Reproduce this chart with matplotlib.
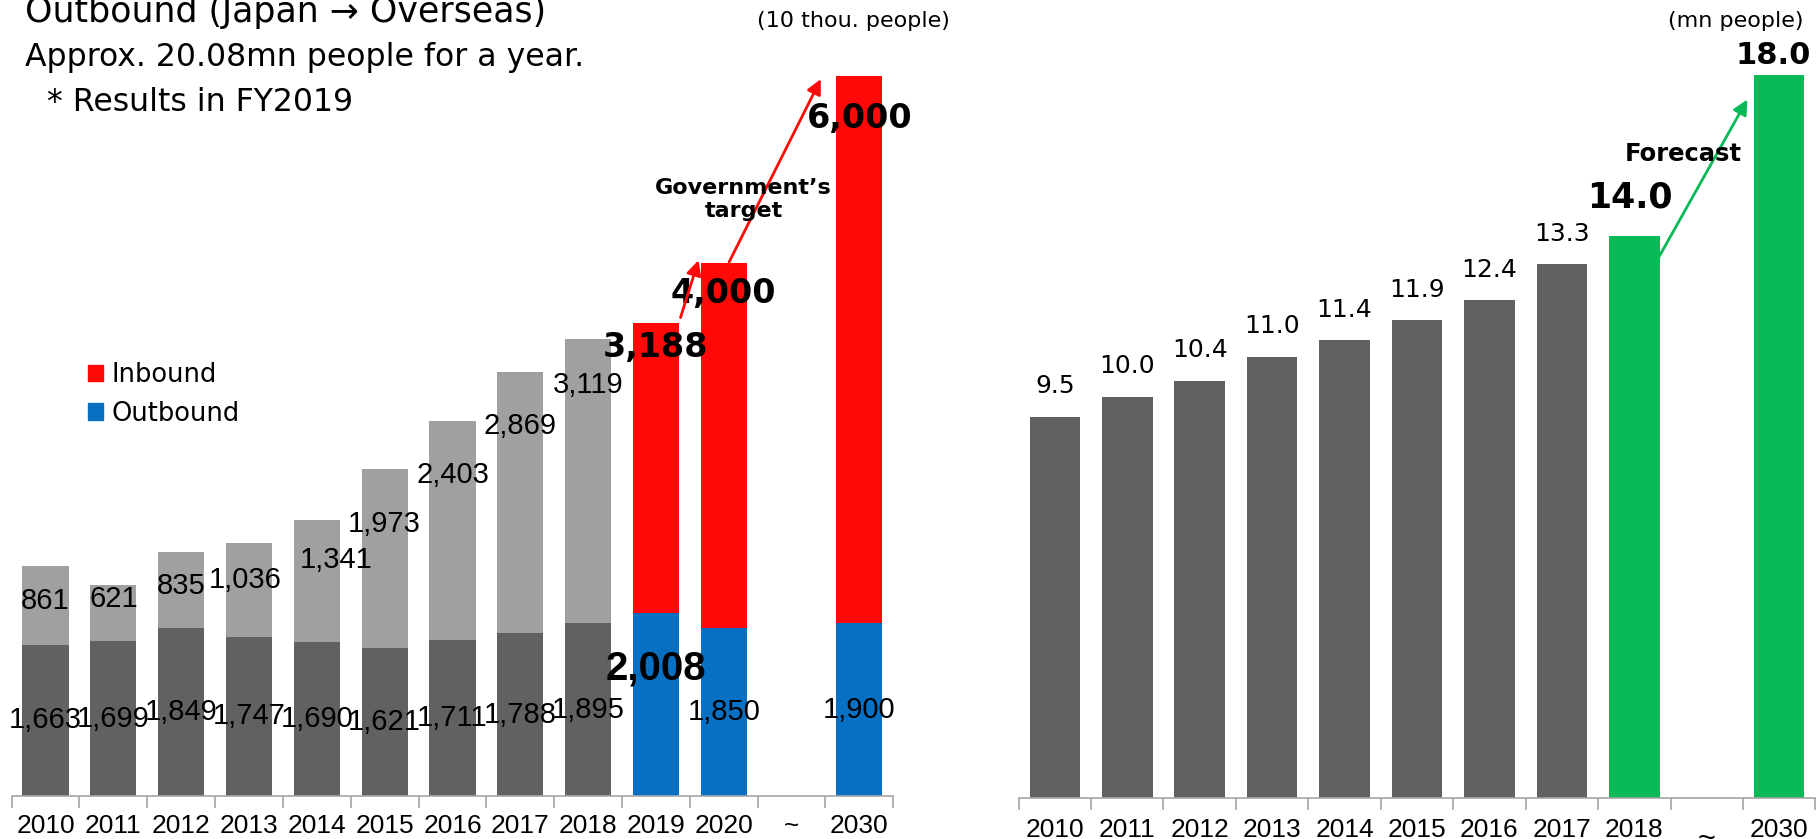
import matplotlib
matplotlib.use('Agg')
import matplotlib.pyplot as plt
import numpy as np
from matplotlib.patches import Patch

# Left: inbound / outbound travellers (10 thou. people)
years_left = ['2010', '2011', '2012', '2013', '2014', '2015', '2016', '2017',
              '2018', '2019', '2020', '~', '2030']
outbound = [1663, 1699, 1849, 1747, 1690, 1621, 1711, 1788, 1895, 2008, 1850, None, 1900]
inbound = [861, 621, 835, 1036, 1341, 1973, 2403, 2869, 3119, 3188, 4000, None, 6000]
n_actual = 9  # bars up to 2018 are drawn in gray

# Right: visitors (mn people)
years_right = ['2010', '2011', '2012', '2013', '2014', '2015', '2016', '2017',
               '2018', '', '2030']
visitors = [9.5, 10.0, 10.4, 11.0, 11.4, 11.9, 12.4, 13.3, 14.0, None, 18.0]
n_gray_right = 8

# hand-placed label offsets (points) for the gray inbound labels, as in the original
inbound_drop = [25, 10, 25, 27, 29, 40, 39, 39, 33]
inbound_shift = [0, 0, 0, -3, 14, 0, 0, 0, 0]

DARK = '#616161'
LIGHT = '#a0a0a0'
RED = '#ff0808'
BLUE = '#0770c3'
GREEN = '#07ba55'
AXIS = '#a6a6a6'
NUM_FONT = 'Liberation Sans'

fig = plt.figure(figsize=(18.19, 8.39), dpi=100)
ax1 = fig.add_axes([0.0064, 0.0512, 0.4847, 0.8686])
ax2 = fig.add_axes([0.560, 0.0484, 0.438, 0.8714])


def style_axis(ax, n, pad):
    for s in ['top', 'right', 'left']:
        ax.spines[s].set_visible(False)
    ax.spines['bottom'].set_color(AXIS)
    ax.spines['bottom'].set_linewidth(1.2)
    ax.set_xlim(-0.5, n - 0.5)
    ax.set_yticks([])
    ax.set_xticks(np.arange(-0.5, n, 1.0), minor=True)
    ax.tick_params(axis='x', which='minor', length=8.5, width=1.2, color=AXIS)
    ax.tick_params(axis='x', which='major', length=0, pad=pad)


# ---- left chart
x1 = np.arange(len(years_left))
style_axis(ax1, len(years_left), 13)
ax1.set_ylim(0, 8000)
ax1.set_xticks(x1)
ax1.set_xticklabels(years_left, fontsize=19, family=NUM_FONT)

for i in range(len(years_left)):
    if outbound[i] is None:
        continue
    c_out = DARK if i < n_actual else BLUE
    c_in = LIGHT if i < n_actual else RED
    ax1.bar(x1[i], outbound[i], width=0.68, color=c_out)
    ax1.bar(x1[i], inbound[i], width=0.68, bottom=outbound[i], color=c_in)

# outbound labels in the middle of the lower segment
for i in range(len(years_left)):
    if outbound[i] is None:
        continue
    if i == 9:
        ax1.text(x1[i], outbound[i] * 0.7, f'{outbound[i]:,}', ha='center', va='center',
                 fontsize=29, fontweight='bold', family=NUM_FONT)
    else:
        ax1.text(x1[i], outbound[i] / 2, f'{outbound[i]:,}', ha='center', va='center',
                 fontsize=21, family=NUM_FONT)

# inbound labels
for i in range(n_actual):
    ax1.annotate(f'{inbound[i]:,}', (x1[i], outbound[i] + inbound[i]),
                 xytext=(inbound_shift[i], -inbound_drop[i]), textcoords='offset points',
                 ha='center', va='center', fontsize=21, family=NUM_FONT)
for i, drop in [(9, 18), (10, 22), (12, 30)]:
    ax1.annotate(f'{inbound[i]:,}', (x1[i], outbound[i] + inbound[i]),
                 xytext=(0, -drop), textcoords='offset points',
                 ha='center', va='center', fontsize=24, fontweight='bold')

# target arrows
arrow_red = dict(arrowstyle='-|>', color=RED, lw=2, mutation_scale=22)
ax1.annotate('', xy=(9.64, 5911), xytext=(9.35, 5223), arrowprops=arrow_red)
ax1.annotate('', xy=(11.45, 7898), xytext=(10.06, 5834), arrowprops=arrow_red)
ax1.text(10.29, 6548, 'Government\u2019s\ntarget', ha='center', va='center',
         fontsize=16, fontweight='bold', linespacing=1.15)

ax1.legend(handles=[Patch(color=RED, label='Inbound'), Patch(color=BLUE, label='Outbound')],
           loc='upper left', bbox_to_anchor=(0.075, 0.61), frameon=False,
           fontsize=18.5, handlelength=0.6, handleheight=0.6, handletextpad=0.3,
           labelspacing=0.5, borderaxespad=0)

# ---- right chart
x2 = np.arange(len(years_right))
style_axis(ax2, len(years_right), 14)
ax2.set_ylim(0, 18.2)
ax2.set_xticks(x2)
ax2.set_xticklabels(years_right, fontsize=19, family=NUM_FONT)

for i in range(len(years_right)):
    if visitors[i] is None:
        continue
    col = DARK if i < n_gray_right else GREEN
    ax2.bar(x2[i], visitors[i], width=0.70, color=col)
    if i < n_gray_right:
        ax2.annotate(f'{visitors[i]:.1f}', (x2[i], visitors[i]), xytext=(0, 22),
                     textcoords='offset points', ha='center', va='center', fontsize=18)
ax2.annotate(f'{visitors[8]:.1f}', (x2[8], visitors[8]), xytext=(-3, 28),
             textcoords='offset points', ha='center', va='center', fontsize=25, fontweight='bold')
ax2.annotate(f'{visitors[10]:.1f}', (x2[10], visitors[10]), xytext=(-4, 14),
             textcoords='offset points', ha='center', va='center', fontsize=22, fontweight='bold')

ax2.annotate('', xy=(9.58, 17.46), xytext=(8.31, 13.38),
             arrowprops=dict(arrowstyle='-|>', color=GREEN, lw=2, mutation_scale=22))
ax2.text(8.68, 16.04, 'Forecast', ha='center', va='center', fontsize=17.5, fontweight='bold')
ax2.annotate('~', (9, 0), xytext=(0, -30), textcoords='offset points',
             ha='center', va='center', fontsize=22, family=NUM_FONT, annotation_clip=False)

# ---- header texts
fig.text(0.014, 0.986, 'Outbound (Japan \u2192 Overseas)', ha='left', va='center', fontsize=25)
fig.text(0.014, 0.931, 'Approx. 20.08mn people for a year.', ha='left', va='center', fontsize=22.7)
fig.text(0.026, 0.878, '* Results in FY2019', ha='left', va='center', fontsize=22.7)
fig.text(0.469, 0.975, '(10 thou. people)', ha='center', va='center', fontsize=16)
fig.text(0.954, 0.975, '(mn people)', ha='center', va='center', fontsize=16)

fig.savefig('out.png', dpi=100)
